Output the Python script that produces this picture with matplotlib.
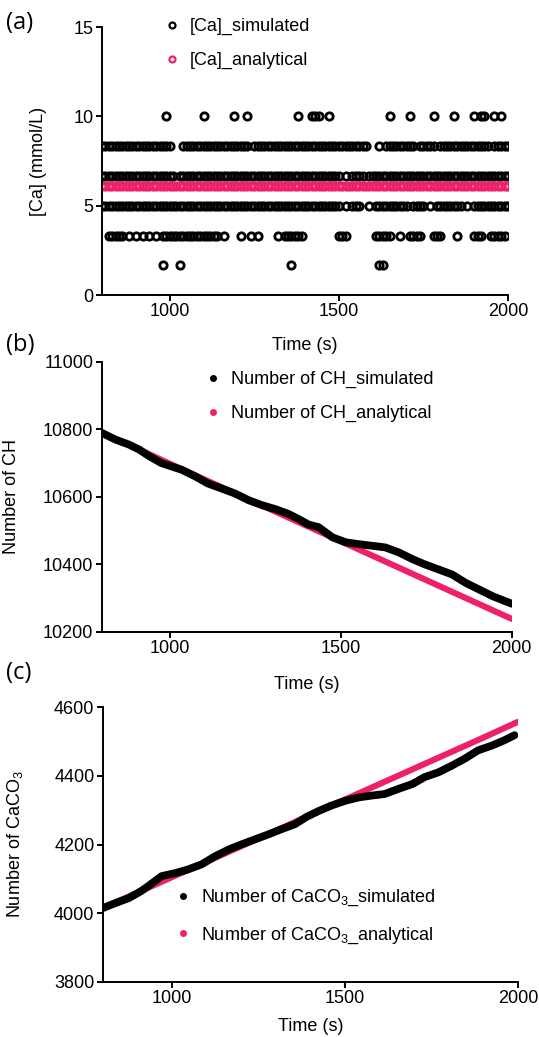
import matplotlib

matplotlib.use("Agg")
import matplotlib.pyplot as plt  # noqa: E402
import numpy as np  # noqa: E402
from matplotlib.lines import Line2D  # noqa: E402

plt.rcParams["font.family"] = ["Liberation Sans", "DejaVu Sans"]
plt.rcParams["mathtext.fontset"] = "custom"
plt.rcParams["mathtext.rm"] = "Liberation Sans"
plt.rcParams["mathtext.it"] = "Liberation Sans:italic"

PINK = "#ee1f6b"

# (a) [Ca]. One string per concentration level, one
# character per 10 s bin from 800 s to 2000 s ("o" = a point in that bin).
ca_t0 = 800
ca_dt = 10
ca_sim_levels = [10.0, 8.33, 6.67, 5.0, 3.33, 1.67]
ca_sim_rows = [
    (".........." ".........o" ".........." "o........o" "...o......" "........o."
     "..ooo..o.." ".........." ".....o...." ".o......o." "....o....." "o.oo..o.o." "."),
    ("oooooooooo" "oooooooooo" "o...oooooo" "oooooooooo" "oooo.ooooo" "oooooooooo"
     "oooooooooo" "ooooooooo." "..o.oooooo" "ooo.ooooo." "oooooooooo" "ooooo.oooo" "o"),
    ("oooooooooo" "oooooooooo" "oo.ooooooo" "oooooooooo" "oooooooooo" "oooooooooo"
     "oooooooooo" "o.o.oooo.o" "oooooooooo" "oooooooooo" "oooooooooo" "oooooooooo" "o"),
    ("oooooooooo" "oooooooooo" "oooooooooo" "oooooooooo" "oooooooooo" "oooooooooo"
     "oooooooooo" "o.o.ooo..o" ".ooooooooo" "o.oooo.o.o" "ooooooo.o." "oooooooooo" "o"),
    ("..ooooo.o." "o.o.o.o.oo" "oooooooooo" "ooooo.o..." ".o..o.o..." "..o.oooooo"
     ".........." "ooo......." ".ooooo..o." ".oooo...oo" "o....o...." "ooo..ooooo" "."),
    (".........." "........o." "...o......" ".........." ".........." "......o..."
     ".........." ".........." "..oo......" ".........." ".........." ".........." "."),
]
ca_ana_level = 6.1
ca_ana_row = ("oooooooooo" "oooooooooo" "oooooooooo" "oooooooooo" "oooooooooo" "oooooooooo"
              "oooooooooo" "oooooooooo" "oooooooooo" "oooooooooo" "oooooooooo" "oooooooooo" "o")

# (b) number of CH
ch_sim_t = [800, 840, 880, 910, 940, 975, 1005, 1035, 1075, 1110, 1150, 1190,
            1230, 1270, 1310, 1345, 1375, 1405, 1435, 1475, 1515, 1550, 1590,
            1630, 1670, 1710, 1745, 1785, 1825, 1865, 1905, 1945, 1970, 2000]
ch_sim = [10790, 10770, 10755, 10740, 10720, 10700, 10690, 10680, 10660, 10640,
          10625, 10610, 10590, 10575, 10563, 10550, 10535, 10518, 10510, 10480,
          10465, 10460, 10455, 10450, 10435, 10415, 10400, 10385, 10370, 10345,
          10325, 10305, 10295, 10283]
ch_ana_t = [800, 900, 1000, 1100, 1200, 1300, 1400, 1500, 1600, 1700, 1800, 1900, 2000]
ch_ana = [10790, 10745, 10698, 10652, 10606, 10560, 10514, 10468, 10422, 10376,
          10330, 10284, 10238]

# (c) number of CaCO3
cc_sim_t = [800, 835, 875, 910, 930, 970, 1010, 1045, 1085, 1125, 1165, 1200,
            1240, 1280, 1315, 1355, 1390, 1425, 1460, 1500, 1540, 1575, 1615,
            1655, 1695, 1730, 1770, 1810, 1845, 1885, 1925, 1960, 1990]
cc_sim = [4015, 4029, 4044, 4064, 4078, 4108, 4117, 4127, 4142, 4166, 4186, 4200,
          4215, 4230, 4244, 4259, 4281, 4298, 4313, 4327, 4337, 4342, 4347, 4362,
          4376, 4396, 4410, 4430, 4449, 4474, 4488, 4503, 4518]
cc_ana_t = [800, 900, 1000, 1100, 1200, 1300, 1400, 1500, 1600, 1700, 1800, 1900, 2000]
cc_ana = [4015, 4060, 4105, 4150, 4195, 4240, 4286, 4331, 4376, 4421, 4466, 4511, 4557]


def row_times(row):
    idx = np.array([i for i, c in enumerate(row) if c == "o"])
    return ca_t0 + ca_dt * idx


def style_axes(ax):
    for side in ("top", "right"):
        ax.spines[side].set_visible(False)
    for side in ("left", "bottom"):
        ax.spines[side].set_linewidth(1.4)
    ax.tick_params(width=1.4, length=4, labelsize=13, pad=2, colors="black")
    ax.set_xlim(800, 2000)
    ax.set_xticks([1000, 1500, 2000])


W, H = 539, 1037
fig = plt.figure(figsize=(W / 100, H / 100), dpi=100)


def add_axes(x0, x1, ytop, ybot):
    return fig.add_axes([x0 / W, 1 - ybot / H, (x1 - x0) / W, (ybot - ytop) / H])


# ---- (a)
ax = add_axes(102, 508, 27, 295)
style_axes(ax)
for i, (lev, row) in enumerate(zip(ca_sim_levels, ca_sim_rows)):
    t = row_times(row)
    ax.plot(t, np.full(len(t), lev), ls="none", marker="o", ms=5.3, mew=2.0,
            mfc="none", mec="black", label="[Ca]_simulated" if i == 0 else None)
t = row_times(ca_ana_row)
ax.plot(t, np.full(len(t), ca_ana_level), ls="none", marker="o", ms=5.3, mew=2.0,
        mfc="none", mec=PINK, label="[Ca]_analytical")
ax.set_ylim(0, 15)
ax.set_yticks([0, 5, 10, 15])
ax.set_xlabel("Time (s)", fontsize=13)
ax.set_ylabel("[Ca] (mmol/L)", fontsize=13)
ax.xaxis.set_label_coords(0.5, -0.157)
ax.yaxis.set_label_coords(-0.135, 0.5)
leg = ax.legend(loc="upper left", bbox_to_anchor=(0.155, 1.034), frameon=False,
                fontsize=13, handlelength=0.8, handletextpad=0.6, labelspacing=0.94,
                borderpad=0, borderaxespad=0, numpoints=1)
for h in leg.legend_handles:
    h.set_markersize(4.3)
    h.set_markeredgewidth(1.6)

# ---- (b)
ax = add_axes(101.7, 511.7, 362, 631.7)
style_axes(ax)
ax.plot(ch_ana_t, ch_ana, color=PINK, lw=4.4, solid_capstyle="round")
ax.plot(ch_sim_t, ch_sim, color="black", lw=5.6, solid_capstyle="round",
        solid_joinstyle="round")
ax.set_ylim(10200, 11000)
ax.set_yticks(np.arange(10200, 11001, 200))
ax.set_xlabel("Time (s)", fontsize=13)
ax.set_ylabel("Number of CH", fontsize=13)
ax.xaxis.set_label_coords(0.5, -0.164)
ax.yaxis.set_label_coords(-0.199, 0.5)
handles = [
    Line2D([], [], ls="none", marker="o", ms=4, color="black"),
    Line2D([], [], ls="none", marker="o", ms=4, color=PINK),
]
ax.legend(handles, ["Number of CH_simulated", "Number of CH_analytical"],
          loc="upper left", bbox_to_anchor=(0.254, 0.967), frameon=False,
          fontsize=13, handlelength=0.8, handletextpad=0.6, labelspacing=0.94,
          borderpad=0, borderaxespad=0)

# ---- (c)
ax = add_axes(102.8, 518, 707, 982)
style_axes(ax)
ax.plot(cc_ana_t, cc_ana, color=PINK, lw=4.4, solid_capstyle="round")
ax.plot(cc_sim_t, cc_sim, color="black", lw=5.6, solid_capstyle="round",
        solid_joinstyle="round")
ax.set_ylim(3800, 4600)
ax.set_yticks(np.arange(3800, 4601, 200))
ax.set_xlabel("Time (s)", fontsize=13)
ax.set_ylabel("Number of CaCO$_3$", fontsize=13)
ax.xaxis.set_label_coords(0.5, -0.131)
ax.yaxis.set_label_coords(-0.187, 0.5)
ax.legend(handles, ["Number of CaCO$_3$_simulated", "Number of CaCO$_3$_analytical"],
          loc="upper left", bbox_to_anchor=(0.176, 0.342), frameon=False,
          fontsize=13, handlelength=0.8, handletextpad=0.6, labelspacing=0.94,
          borderpad=0, borderaxespad=0)

# panel letters
for label, yc in (("(a)", 23), ("(b)", 345), ("(c)", 673)):
    fig.text(6 / W, 1 - yc / H, label, fontsize=17, family="Open Sans",
             ha="left", va="center")

fig.savefig("out.png", dpi=100)
